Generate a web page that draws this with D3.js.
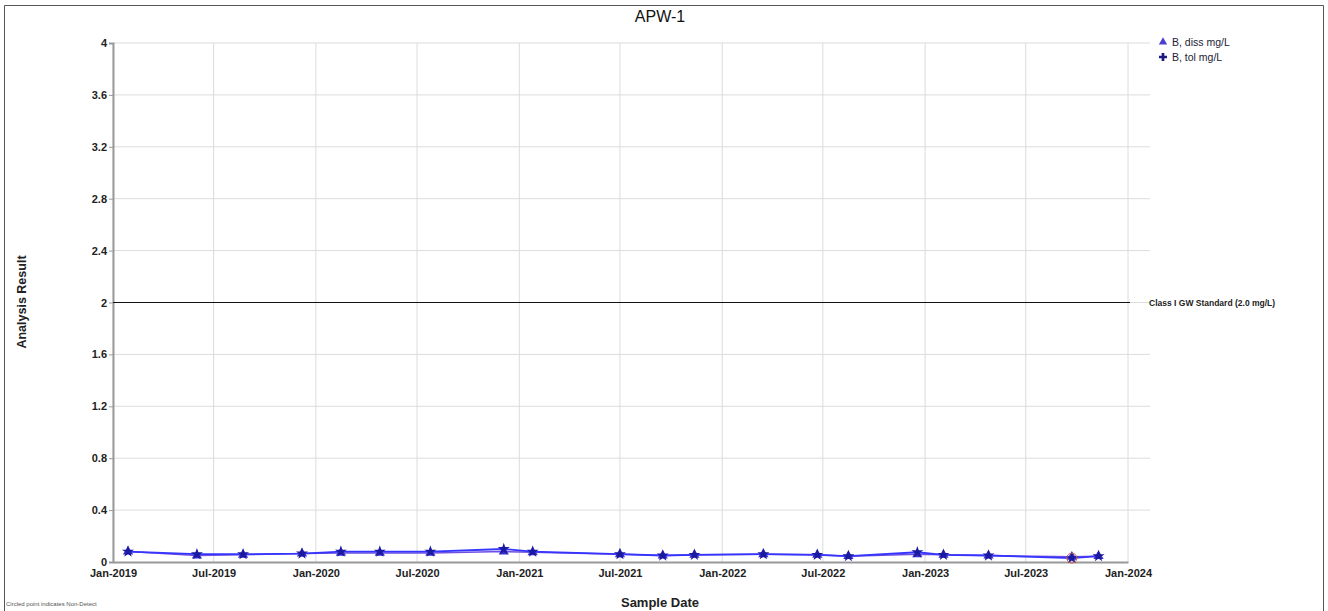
<!DOCTYPE html>
<html><head><meta charset="utf-8">
<script src="https://cdn.jsdelivr.net/npm/d3@7"></script>
<style>body{margin:0;background:#fff}svg{display:block;font-family:Arial,"Liberation Sans",sans-serif}</style>
</head><body><svg id="c" width="1328" height="611"></svg>
<script>
const dates = ["2019-01-28","2019-06-01","2019-08-23","2019-12-07","2020-02-15","2020-04-25","2020-07-25","2020-12-04","2021-01-25","2021-07-01","2021-09-16","2021-11-12","2022-03-16","2022-06-21","2022-08-16","2022-12-18","2023-02-03","2023-04-25","2023-09-22","2023-11-09"];
const dissValues = [0.08,0.05,0.055,0.065,0.07,0.07,0.07,0.08,0.075,0.06,0.05,0.055,0.06,0.055,0.045,0.06,0.055,0.05,0.04,0.045];
const totValues  = [0.08,0.06,0.06,0.065,0.08,0.08,0.08,0.10,0.08,0.06,0.05,0.055,0.06,0.055,0.045,0.075,0.055,0.05,0.03,0.045];
const nonDetectTot = [18];
const yTicks = [0,0.4,0.8,1.2,1.6,2,2.4,2.8,3.2,3.6,4];
const xTickLabels = ["Jan-2019","Jul-2019","Jan-2020","Jul-2020","Jan-2021","Jul-2021","Jan-2022","Jul-2022","Jan-2023","Jul-2023","Jan-2024"];
const standardValue = 2.0;
const standardLabel = "Class I GW Standard (2.0 mg/L)";
const seriesNames = ["B, diss mg/L","B, tol mg/L"];

const parse = d3.timeParse("%Y-%m-%d");
const parseTick = d3.timeParse("%b-%Y");
const svg = d3.select("#c");
const x = d3.scaleTime().domain([parse("2019-01-01"), parse("2024-01-01")]).range([113,1128]);
const y = d3.scaleLinear().domain([0,4]).range([562,43]);
const gridRight = 1150;

// frame
svg.append("path").attr("d","M4.5,611 V5.5 H1323.5 V611").attr("fill","none").attr("stroke","#555").attr("stroke-width",1);

// title
svg.append("text").attr("x",660).attr("y",22).attr("text-anchor","middle").attr("font-size",16).attr("fill","#111").text("APW-1");

// grid
const xt = xTickLabels.map(s=>parseTick(s));
svg.append("g").selectAll("line").data(xt).join("line")
  .attr("x1",d=>x(d)).attr("x2",d=>x(d)).attr("y1",43).attr("y2",562)
  .attr("stroke","#dcdcdc").attr("stroke-width",1);
svg.append("g").selectAll("line").data(yTicks.filter(v=>v>0)).join("line")
  .attr("x1",113).attr("x2",gridRight).attr("y1",d=>y(d)).attr("y2",d=>y(d))
  .attr("stroke","#dcdcdc").attr("stroke-width",1);

// axes
const yAxis = svg.append("g").attr("transform","translate(113,0)")
  .call(d3.axisLeft(y).tickValues(yTicks).tickSize(4).tickFormat(d3.format("~g")));
const xAxis = svg.append("g").attr("transform","translate(0,562)")
  .call(d3.axisBottom(x).tickValues(xt).tickSize(0).tickFormat(d3.timeFormat("%b-%Y")));
[yAxis,xAxis].forEach(a=>{
  a.select(".domain").attr("stroke","#999").attr("stroke-width",2);
  a.selectAll(".tick line").attr("stroke","#999");
  a.selectAll("text").attr("font-size",11).attr("font-weight","bold").attr("fill","#222").attr("font-family","Arial,'Liberation Sans',sans-serif");
});
xAxis.selectAll("text").attr("dy","1.1em");
yAxis.selectAll("text").attr("dx","1px");

// standard line
svg.append("line").attr("x1",113).attr("x2",1130).attr("y1",y(standardValue)).attr("y2",y(standardValue)).attr("stroke","#111").attr("stroke-width",1.2);
svg.append("text").attr("x",1149).attr("y",y(standardValue)+3).attr("font-size",8.5).attr("font-weight","bold").attr("fill","#222").text(standardLabel);

// data
const diss = dates.map((d,i)=>({t:parse(d),v:dissValues[i]}));
const tot = dates.map((d,i)=>({t:parse(d),v:totValues[i]}));
const line = d3.line().x(d=>x(d.t)).y(d=>y(d.v));
svg.append("path").datum(diss).attr("d",line).attr("fill","none").attr("stroke","#7050e0").attr("stroke-width",1.5);
svg.append("path").datum(tot).attr("d",line).attr("fill","none").attr("stroke","#3535ff").attr("stroke-width",1.8);

const tri = d3.symbol().type(d3.symbolTriangle).size(45);
const star = d3.symbol().type(d3.symbolStar).size(45);
svg.append("g").selectAll("path").data(diss).join("path")
  .attr("transform",d=>`translate(${x(d.t)},${y(d.v)})`).attr("d",tri).attr("fill","#3a2fc8");
svg.append("g").selectAll("path").data(tot).join("path")
  .attr("transform",d=>`translate(${x(d.t)},${y(d.v)})`).attr("d",star).attr("fill","#1a1aa0");
svg.append("g").selectAll("circle").data(nonDetectTot.map(i=>tot[i])).join("circle")
  .attr("cx",d=>x(d.t)).attr("cy",d=>y(d.v)).attr("r",5).attr("fill","none").attr("stroke","#d06050").attr("stroke-width",1);

// legend
const lg = svg.append("g");
lg.append("path").attr("transform","translate(1163,42)").attr("d",d3.symbol().type(d3.symbolTriangle).size(30)).attr("fill","#4a3fd0");
lg.append("path").attr("transform","translate(1163,57)").attr("d",d3.symbol().type(d3.symbolCross).size(35)).attr("fill","#1a1a80");
lg.selectAll("text").data(seriesNames).join("text")
  .attr("x",1172).attr("y",(d,i)=>46+i*15).attr("font-size",10.5).attr("fill","#223").text(d=>d);

// axis titles
svg.append("text").attr("x",660).attr("y",607).attr("text-anchor","middle").attr("font-size",13).attr("font-weight","bold").attr("fill","#222").text("Sample Date");
svg.append("text").attr("transform","translate(26,302) rotate(-90)").attr("text-anchor","middle").attr("font-size",12.5).attr("font-weight","bold").attr("fill","#222").text("Analysis Result");

// footnote
svg.append("text").attr("x",6).attr("y",606).attr("font-size",6).attr("fill","#555").text("Circled point indicates Non-Detect");
</script></body></html>
